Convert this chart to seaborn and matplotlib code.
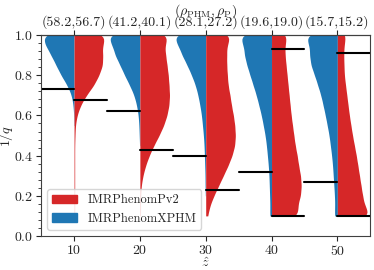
import numpy as np
import pandas as pd
import matplotlib

matplotlib.use("Agg")
import matplotlib.pyplot as plt
import seaborn as sns
from matplotlib.patches import Patch
from matplotlib.ticker import AutoMinorLocator

# grid of 1/q values and relative sample counts
inv_q = [0.10, 0.15, 0.20, 0.25, 0.30, 0.35, 0.40, 0.45, 0.50, 0.55,
         0.60, 0.65, 0.70, 0.75, 0.80, 0.85, 0.90, 0.95, 1.00]
z_hat = [10, 20, 30, 40, 50]

counts_xphm = {
    10: [0, 0, 0, 0, 0, 0, 0, 0, 0, 1, 1, 3, 8, 22, 42, 58, 74, 92, 106],
    20: [0, 0, 0, 0, 0, 0, 0, 1, 2, 3, 5, 10, 18, 32, 48, 62, 78, 86, 106],
    30: [0, 0, 1, 2, 2, 3, 4, 5, 7, 10, 13, 18, 24, 32, 44, 58, 74, 86, 106],
    40: [6, 5, 6, 7, 8, 10, 13, 16, 20, 26, 32, 40, 48, 58, 68, 78, 86, 88, 106],
    50: [10, 8, 9, 11, 13, 15, 18, 22, 26, 32, 38, 45, 52, 62, 72, 84, 88, 88, 106],
}
counts_pv2 = {
    10: [2, 2, 2, 2, 2, 2, 2, 2, 3, 4, 9, 20, 38, 62, 78, 90, 90, 88, 104],
    20: [2, 2, 2, 4, 9, 17, 28, 42, 58, 72, 82, 88, 90, 88, 86, 82, 78, 74, 90],
    30: [6, 12, 24, 38, 52, 66, 78, 86, 88, 86, 82, 76, 72, 66, 64, 62, 62, 62, 78],
    40: [82, 76, 86, 88, 86, 80, 76, 70, 66, 62, 58, 55, 52, 49, 46, 43, 40, 39, 48],
    50: [108, 86, 80, 75, 70, 65, 60, 54, 48, 43, 38, 34, 30, 26, 22, 21, 20, 21, 28],
}

# 90% bounds shown as black bars
low_xphm = [0.73, 0.62, 0.40, 0.32, 0.27]
low_pv2 = [0.675, 0.43, 0.23, 0.10, 0.10]
high_pv2 = [1.0, 1.0, 1.0, 0.93, 0.91]
snr_labels = ["(58.2,56.7)", "(41.2,40.1)", "(28.1,27.2)", "(19.6,19.0)", "(15.7,15.2)"]

rows = []
for z in z_hat:
    for name, counts in [("IMRPhenomXPHM", counts_xphm[z]), ("IMRPhenomPv2", counts_pv2[z])]:
        for q, n in zip(inv_q, counts):
            rows += [(z, q, name)] * n
df = pd.DataFrame(rows, columns=["z", "inv_q", "approx"])

sns.set_style("ticks")
plt.rcParams["font.family"] = ["cmr10", "DejaVu Serif"]
plt.rcParams["mathtext.fontset"] = "cm"
plt.rcParams["axes.formatter.use_mathtext"] = True
plt.rcParams["font.size"] = 10

order = ["IMRPhenomXPHM", "IMRPhenomPv2"]
colors = {"IMRPhenomXPHM": "#1f77b4", "IMRPhenomPv2": "#d62728"}

fig, ax = plt.subplots(figsize=(3.74, 2.70), dpi=100)
# one call per approximant so each half is scaled to its own peak
for name in order:
    sns.violinplot(
        data=df[df.approx == name], x="z", y="inv_q", hue="approx",
        hue_order=order, palette=colors, dodge=True,
        split=True, native_scale=True, inner=None, cut=0, width=0.9,
        density_norm="width", saturation=1, linewidth=0,
        bw_method=lambda k: 0.03 / np.std(k.dataset, ddof=1),
        legend=False, ax=ax,
    )

for i, z in enumerate(z_hat):
    ax.plot([z - 5, z], [low_xphm[i]] * 2, color="k", lw=1.5)
    ax.plot([z - 5, z], [1.0, 1.0], color="k", lw=1.5)
    ax.plot([z, z + 5], [low_pv2[i]] * 2, color="k", lw=1.5)
    ax.plot([z, z + 5], [high_pv2[i]] * 2, color="k", lw=1.5)

ax.set_xlim(5, 55)
ax.set_ylim(0, 1)
ax.set_xticks(z_hat)
ax.set_yticks([0.0, 0.2, 0.4, 0.6, 0.8, 1.0])
ax.yaxis.set_minor_locator(AutoMinorLocator(5))
ax.tick_params(axis="both", pad=2)
ax.set_xlabel(r"$\hat{z}$", labelpad=-1)
ax.set_ylabel(r"$1/q$", labelpad=-1)
for s in ax.spines.values():
    s.set_color("#404040")

top = ax.secondary_xaxis("top")
top.set_xticks(z_hat)
top.set_xticklabels(snr_labels)
top.tick_params(pad=1)
top.set_xlabel(r"$(\rho_{\rm PHM}, \rho_{\rm P})$", labelpad=0)

handles = [Patch(color=colors["IMRPhenomPv2"], label="IMRPhenomPv2"),
           Patch(color=colors["IMRPhenomXPHM"], label="IMRPhenomXPHM")]
ax.legend(handles=handles, loc="lower left", fontsize=9, framealpha=0.8)

fig.subplots_adjust(left=0.11, right=0.99, top=0.87, bottom=0.126)
fig.savefig("out.png", dpi=100)
